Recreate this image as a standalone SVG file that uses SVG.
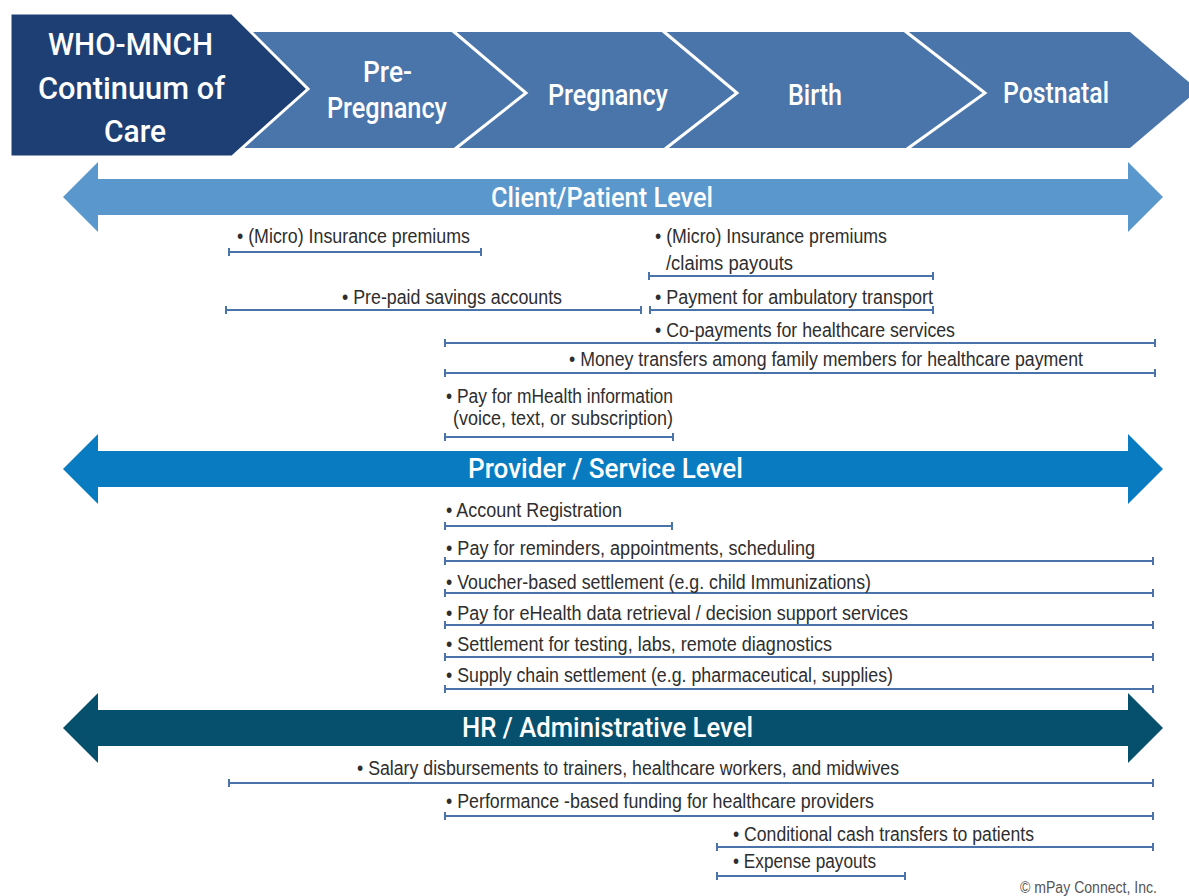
<svg xmlns="http://www.w3.org/2000/svg" width="1189" height="896" viewBox="0 0 1189 896">
<style>
.hd{font-family:Roboto,"Liberation Sans",sans-serif;font-weight:500;fill:#ffffff}
.it{font-family:"Liberation Sans",Arial,sans-serif;font-size:20px;fill:#2e2e2e}
.br{stroke:#4a73aa;stroke-width:2;fill:none}
.chev{stroke:#ffffff;stroke-width:3;fill:none}
</style>
<rect x="0" y="0" width="1189" height="896" fill="#ffffff"/>
<g id="stages">
  <polygon points="240,32 1130,32 1198,90 1130,148 240,148" fill="#4a75aa"/>
  <polyline class="chev" points="453,31 526,93 455,149"/>
  <polyline class="chev" points="663,31 737,93 665,149"/>
  <polyline class="chev" points="905,31 985,93 907,149"/>
  <polygon points="10,13 232,13 308,89 232,157 10,157" fill="#1e3f73" stroke="#ffffff" stroke-width="3"/>
</g>
<g id="title">
  <text class="hd" font-size="32" x="48" y="55" textLength="165" lengthAdjust="spacingAndGlyphs">WHO-MNCH</text>
  <text class="hd" font-size="32" x="38" y="99" textLength="187" lengthAdjust="spacingAndGlyphs">Continuum of</text>
  <text class="hd" font-size="32" x="104" y="142" textLength="62" lengthAdjust="spacingAndGlyphs">Care</text>
</g>
<g id="stage-prepregnancy">
  <text class="hd" font-size="29" x="363" y="82" textLength="49" lengthAdjust="spacingAndGlyphs">Pre-</text>
  <text class="hd" font-size="29" x="327" y="118" textLength="120" lengthAdjust="spacingAndGlyphs">Pregnancy</text>
</g>
<g id="stage-pregnancy">
  <text class="hd" font-size="29" x="548" y="105" textLength="120" lengthAdjust="spacingAndGlyphs">Pregnancy</text>
</g>
<g id="stage-birth">
  <text class="hd" font-size="29" x="788" y="105" textLength="54" lengthAdjust="spacingAndGlyphs">Birth</text>
</g>
<g id="stage-postnatal">
  <text class="hd" font-size="29" x="1003" y="103" textLength="106" lengthAdjust="spacingAndGlyphs">Postnatal</text>
</g>
<g id="level-client">
  <polygon points="63,197 98,162 98,179 1128,179 1128,162 1163,197 1128,232 1128,215 98,215 98,232" fill="#5a97cc"/>
  <text class="hd" font-size="27" x="491" y="207" textLength="222" lengthAdjust="spacingAndGlyphs">Client/Patient Level</text>
</g>
<g id="level-provider">
  <polygon points="63,469 98,434 98,451 1128,451 1128,434 1163,469 1128,504 1128,487 98,487 98,504" fill="#087bc1"/>
  <text class="hd" font-size="27" x="468" y="478" textLength="275" lengthAdjust="spacingAndGlyphs">Provider / Service Level</text>
</g>
<g id="level-hr">
  <polygon points="63,728 98,693 98,710 1128,710 1128,693 1163,728 1128,763 1128,746 98,746 98,763" fill="#064f6d"/>
  <text class="hd" font-size="27" x="462" y="737" textLength="291" lengthAdjust="spacingAndGlyphs">HR / Administrative Level</text>
</g>
<g id="connectors">
  <path class="br" d="M229,252H481M229,248v8M481,248v8"/>
  <path class="br" d="M649,276H933M649,272v8M933,272v8"/>
  <path class="br" d="M226,310H641M226,306v8M641,306v8"/>
  <path class="br" d="M650,310H933M650,306v8M933,306v8"/>
  <path class="br" d="M445,343H1155M445,339v8M1155,339v8"/>
  <path class="br" d="M445,373H1155M445,369v8M1155,369v8"/>
  <path class="br" d="M445,437H673M445,433v8M673,433v8"/>
  <path class="br" d="M445,526H672M445,522v8M672,522v8"/>
  <path class="br" d="M445,561H1153M445,557v8M1153,557v8"/>
  <path class="br" d="M445,593H1153M445,589v8M1153,589v8"/>
  <path class="br" d="M445,625H1153M445,621v8M1153,621v8"/>
  <path class="br" d="M445,657H1153M445,653v8M1153,653v8"/>
  <path class="br" d="M445,689H1153M445,685v8M1153,685v8"/>
  <path class="br" d="M229,783H1153M229,779v8M1153,779v8"/>
  <path class="br" d="M445,816H1153M445,812v8M1153,812v8"/>
  <path class="br" d="M717,847H1153M717,843v8M1153,843v8"/>
  <path class="br" d="M717,876H905M717,872v8M905,872v8"/>
</g>
<g id="client-items">
  <text class="it" x="237" y="243" textLength="233" lengthAdjust="spacingAndGlyphs">• (Micro) Insurance premiums</text>
  <text class="it" x="655" y="243" textLength="232" lengthAdjust="spacingAndGlyphs">• (Micro) Insurance premiums</text>
  <text class="it" x="666" y="270" textLength="127" lengthAdjust="spacingAndGlyphs">/claims payouts</text>
  <text class="it" x="342" y="304" textLength="220" lengthAdjust="spacingAndGlyphs">• Pre-paid savings accounts</text>
  <text class="it" x="655" y="304" textLength="278" lengthAdjust="spacingAndGlyphs">• Payment for ambulatory transport</text>
  <text class="it" x="655" y="337" textLength="300" lengthAdjust="spacingAndGlyphs">• Co-payments for healthcare services</text>
  <text class="it" x="569" y="366" textLength="514" lengthAdjust="spacingAndGlyphs">• Money transfers among family members for healthcare payment</text>
  <text class="it" x="446" y="403" textLength="227" lengthAdjust="spacingAndGlyphs">• Pay for mHealth information</text>
  <text class="it" x="453" y="425" textLength="220" lengthAdjust="spacingAndGlyphs">(voice, text, or subscription)</text>
</g>
<g id="provider-items">
  <text class="it" x="446" y="517" textLength="176" lengthAdjust="spacingAndGlyphs">• Account Registration</text>
  <text class="it" x="446" y="555" textLength="369" lengthAdjust="spacingAndGlyphs">• Pay for reminders, appointments, scheduling</text>
  <text class="it" x="446" y="589" textLength="425" lengthAdjust="spacingAndGlyphs">• Voucher-based settlement (e.g. child Immunizations)</text>
  <text class="it" x="446" y="620" textLength="462" lengthAdjust="spacingAndGlyphs">• Pay for eHealth data retrieval / decision support services</text>
  <text class="it" x="446" y="651" textLength="386" lengthAdjust="spacingAndGlyphs">• Settlement for testing, labs, remote diagnostics</text>
  <text class="it" x="446" y="682" textLength="447" lengthAdjust="spacingAndGlyphs">• Supply chain settlement (e.g. pharmaceutical, supplies)</text>
</g>
<g id="hr-items">
  <text class="it" x="357" y="775" textLength="542" lengthAdjust="spacingAndGlyphs">• Salary disbursements to trainers, healthcare workers, and midwives</text>
  <text class="it" x="446" y="808" textLength="428" lengthAdjust="spacingAndGlyphs">• Performance -based funding for healthcare providers</text>
  <text class="it" x="733" y="841" textLength="301" lengthAdjust="spacingAndGlyphs">• Conditional cash transfers to patients</text>
  <text class="it" x="733" y="868" textLength="143" lengthAdjust="spacingAndGlyphs">• Expense payouts</text>
</g>
<text class="it" x="1020" y="893" style="font-size:16px;fill:#555555" textLength="137" lengthAdjust="spacingAndGlyphs">© mPay Connect, Inc.</text>
</svg>
